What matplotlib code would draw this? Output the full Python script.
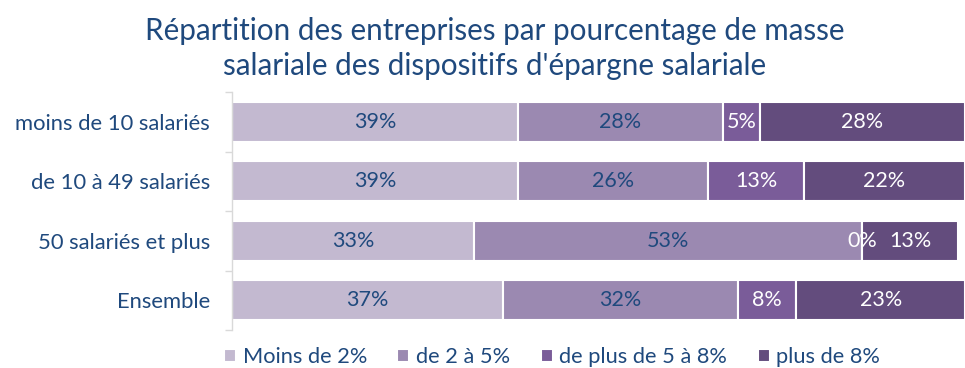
import numpy as np
import matplotlib
matplotlib.use("Agg")
import matplotlib.pyplot as plt

plt.rcParams['font.family'] = ['Lato', 'DejaVu Sans']

# effectifs et parts de masse salariale (%)
categories = ["moins de 10 salariés", "de 10 à 49 salariés", "50 salariés et plus", "Ensemble"]
series_names = ["Moins de 2%", "de 2 à 5%", "de plus de 5 à 8%", "plus de 8%"]
moins_2 = [39, 39, 33, 37]
de_2_a_5 = [28, 26, 53, 32]
de_5_a_8 = [5, 13, 0, 8]
plus_8 = [28, 22, 13, 23]

colors = ["#C3B9D0", "#9B89B1", "#7A5C99", "#634C7D"]
label_colors = ["#1F497D", "#1F497D", "white", "white"]
navy = "#1F497D"

fig = plt.figure(figsize=(9.65, 3.68), dpi=100)
ax = fig.add_axes([0.2404, 0.103, 0.7596, 0.647])

y = np.arange(len(categories))
left = np.zeros(len(categories))
for vals, name, col, lc in zip([moins_2, de_2_a_5, de_5_a_8, plus_8], series_names, colors, label_colors):
    vals = np.array(vals, dtype=float)
    bars = ax.barh(y, vals, left=left, height=0.667, color=col, edgecolor="white",
                   linewidth=1.5, label=name)
    for yi, l, v in zip(y, left, vals):
        ax.text(l + v / 2, yi, f"{int(v)}%", ha="center", va="center",
                color=lc, fontsize=15.5)
    left += vals

ax.set_xlim(0, 100)
ax.set_ylim(len(categories) - 0.5, -0.5)
ax.set_yticks(y)
ax.set_yticklabels(categories, fontsize=15.8, color=navy)
ax.tick_params(axis="y", which="major", length=0, pad=16)
ax.set_yticks(np.arange(-0.5, len(categories), 1), minor=True)
ax.tick_params(axis="y", which="minor", length=5, color="#D9D9D9", width=1)
ax.set_xticks([])
for s in ["top", "right", "bottom"]:
    ax.spines[s].set_visible(False)
ax.spines["left"].set_color("#D9D9D9")
ax.spines["left"].set_linewidth(1)

fig.text(0.513, 0.868, "Répartition des entreprises par pourcentage de masse\nsalariale des dispositifs d'épargne salariale",
         ha="center", va="center", fontsize=21.3, color=navy, linespacing=1.3)

fig.legend(loc="center", bbox_to_anchor=(0.572, 0.03), ncol=4, frameon=False,
           fontsize=15.7, handlelength=0.55, handleheight=0.55, handletextpad=0.3,
           columnspacing=1.4, labelcolor=navy)

fig.savefig("out.png", dpi=100)
